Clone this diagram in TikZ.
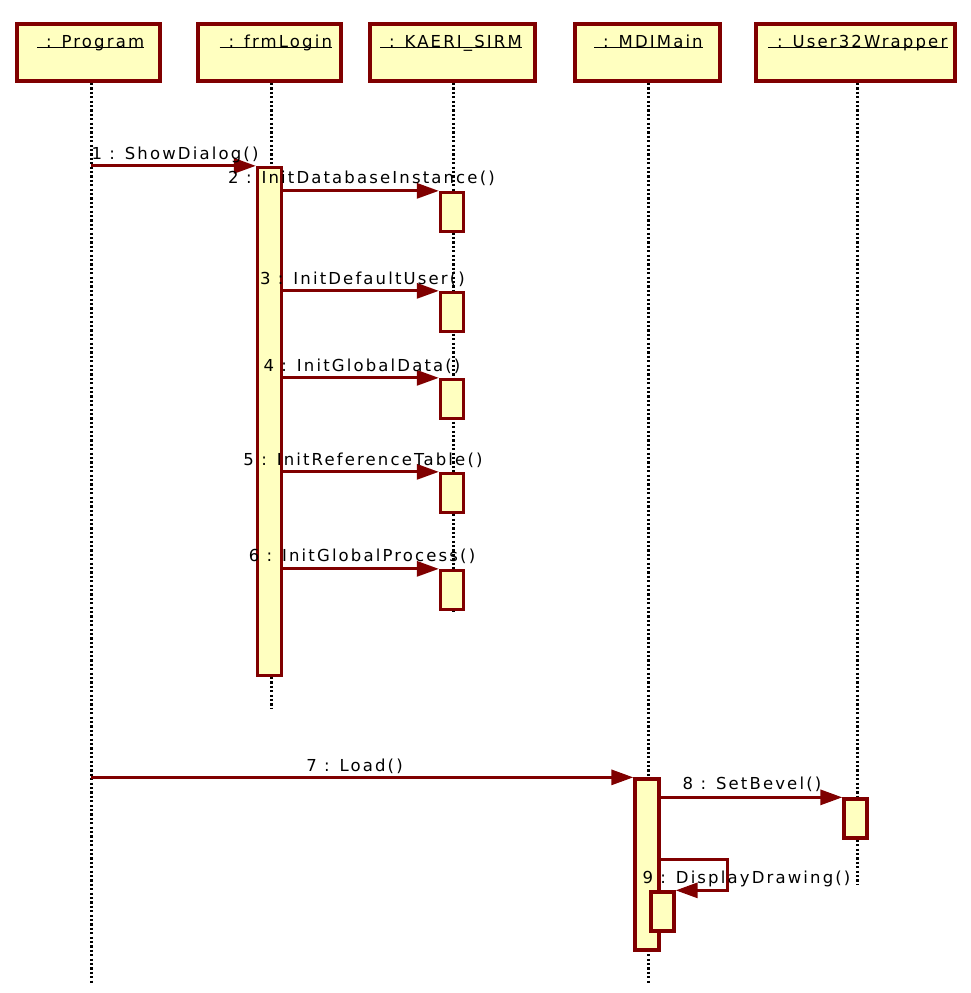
\documentclass[tikz,border=0pt]{standalone}
\usepackage{fontspec}
\setmainfont{DejaVu Sans}[LetterSpace=13]
\usetikzlibrary{arrows.meta}
\definecolor{umlred}{HTML}{800000}
\definecolor{umlfill}{HTML}{FFFFC0}
\begin{document}
\begin{tikzpicture}[x=1pt,y=-1pt, font=\fontsize{16.5}{20}\selectfont,
  objbox/.style={draw=umlred, fill=umlfill, line width=3.8pt, minimum width=#1, minimum height=57pt, inner sep=0pt},
  actbox/.style={draw=umlred, fill=umlfill, line width=3.3pt, inner sep=0pt},
  life/.style={line width=3pt, dash pattern=on 2.2pt off 2.2pt},
  msg/.style={draw=umlred, line width=3pt, -{Triangle[length=22pt,width=15pt]}},
  lbl/.style={anchor=base, inner sep=0pt},
  ttl/.style={anchor=base west, inner sep=0pt},
  uline/.style={line width=1.4pt}]
\useasboundingbox (0,0) rectangle (971,993);

% object boxes
\node[objbox=143pt] (pb) at (88.5,52.5) {};
\node[objbox=143pt] (fb) at (269.5,52.5) {};
\node[objbox=165pt] (kb) at (452.5,52.5) {};
\node[objbox=145pt] (mb) at (647.5,52.5) {};
\node[objbox=199pt] (ub) at (855.5,52.5) {};

% titles
\node[ttl] (pt) at (46,47.5) {: Program};
\node[ttl] (ft) at (228.5,47.5) {: frmLogin};
\node[ttl] (kt) at (389,47.5) {: KAERI\_SIRM};
\node[ttl] (mt) at (603,47.5) {: MDIMain};
\node[ttl] (ut) at (777,47.5) {: User32Wrapper};
\foreach \t in {pt,ft,kt,mt,ut}
  \draw[uline] ([xshift=-9pt]\t.base west) -- (\t.base east);

% lifeline ends
\coordinate (pl) at (91,983);
\coordinate (fl) at (271,708);
\coordinate (kl) at (453,612);
\coordinate (ml) at (648,983);
\coordinate (ul) at (857,884);
\draw[life] (pl |- pb.south) -- (pl);
\draw[life] (fl |- fb.south) -- (fl);
\draw[life] (kl |- kb.south) -- (kl);
\draw[life] (ml |- mb.south) -- (ml);
\draw[life] (ul |- ub.south) -- (ul);

% activations
\node[actbox, minimum width=24pt, minimum height=508pt] (fa) at (269.5,421.5) {};
\node[actbox, minimum width=23pt, minimum height=39pt] (k1) at (452,212) {};
\node[actbox, minimum width=23pt, minimum height=39pt] (k2) at (452,312) {};
\node[actbox, minimum width=23pt, minimum height=39pt] (k3) at (452,399) {};
\node[actbox, minimum width=23pt, minimum height=39pt] (k4) at (452,493) {};
\node[actbox, minimum width=23pt, minimum height=39pt] (k5) at (452,590) {};
\node[actbox, minimum width=24pt, minimum height=171pt] (ma) at (647,864.5) {};
\node[actbox, minimum width=23pt, minimum height=39pt] (ua) at (855.5,818.5) {};

% messages
\draw[msg] (pl |- fa.north west) -- (fa.north west);
\foreach \k in {k1,k2,k3,k4,k5}
  \draw[msg] (\k.north west -| fa.east) -- (\k.north west);
\draw[msg] (pl |- ma.north west) -- (ma.north west);
\draw[msg] (ua.north west -| ma.east) -- (ua.north west);
\node[actbox, minimum width=23pt, minimum height=39pt] (na) at (662.5,911.5) {};
\coordinate (s9) at (727,859);
\draw[msg] (s9 -| ma.east) -- (s9) |- (na.north east);

% labels
\node[lbl] (l1) at (175,159) {1 : ShowDialog()};
\node[lbl] (l2) at (361.5,183) {2 : InitDatabaseInstance()};
\node[lbl] (l3) at (362.5,284) {3 : InitDefaultUser()};
\node[lbl] (l4) at (362,371) {4 : InitGlobalData()};
\node[lbl] (l5) at (363,465) {5 : InitReferenceTable()};
\node[lbl] (l6) at (362,561) {6 : InitGlobalProcess()};
\node[lbl] (l7) at (354.5,771) {7 : Load()};
\node[lbl] (l8) at (752,789) {8 : SetBevel()};
\node[lbl] (l9) at (746.5,883) {9 : DisplayDrawing()};
\end{tikzpicture}
\end{document}
